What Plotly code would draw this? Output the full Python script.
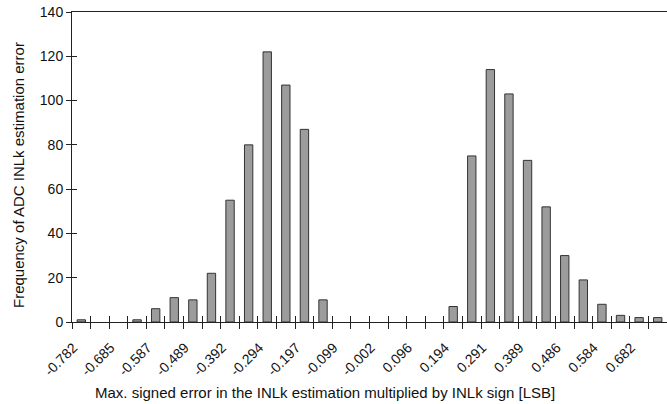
import plotly.graph_objects as go

# category centres (LSB); every other one is labelled
categories = [-0.782, -0.733, -0.685, -0.636, -0.587, -0.538, -0.489, -0.440,
              -0.392, -0.343, -0.294, -0.245, -0.197, -0.148, -0.099, -0.050,
              -0.002, 0.047, 0.096, 0.145, 0.194, 0.242, 0.291, 0.340,
              0.389, 0.437, 0.486, 0.535, 0.584, 0.633, 0.682, 0.730]
frequency = [1, 0, 0, 1, 6, 11, 10, 22, 55, 80, 122, 107, 87, 10, 0, 0,
             0, 0, 0, 0, 7, 75, 114, 103, 73, 52, 30, 19, 8, 3, 2, 2]
tick_labels = ["-0.782", "-0.685", "-0.587", "-0.489", "-0.392", "-0.294",
               "-0.197", "-0.099", "-0.002", "0.096", "0.194", "0.291",
               "0.389", "0.486", "0.584", "0.682"]
y_ticks = [0, 20, 40, 60, 80, 100, 120, 140]

idx = list(range(len(categories)))
label_pos = idx[::2]
boundaries = [i - 0.5 for i in range(len(categories) + 1)]
xr = [-0.5, len(categories) - 0.5]
bar_y = [v if v > 0 else None for v in frequency]

FONT = "Liberation Sans, Arial, sans-serif"

fig = go.Figure()
fig.add_trace(go.Bar(
    x=idx, y=bar_y, width=0.45,
    marker=dict(color="#9c9c9c", line=dict(color="#333333", width=1)),
    xaxis="x", yaxis="y", showlegend=False, hoverinfo="skip"))
fig.add_trace(go.Scatter(x=[], y=[], xaxis="x2", yaxis="y2", showlegend=False))
fig.add_trace(go.Scatter(x=[], y=[], xaxis="x3", yaxis="y2", showlegend=False))

fig.update_layout(
    width=667, height=404,
    margin=dict(l=72, r=0, t=12, b=82),
    plot_bgcolor="white", paper_bgcolor="white",
    font=dict(family=FONT, color="#111111"),
    xaxis=dict(range=xr, tickmode="array", tickvals=label_pos, ticktext=tick_labels,
               tickangle=-45, ticks="", ticklen=0, tickfont=dict(size=14),
               ticklabelshift=-8, ticklabelstandoff=11,
               showgrid=False, zeroline=False, showline=True, linecolor="#222222",
               linewidth=1, mirror=True),
    xaxis2=dict(range=xr, overlaying="x", anchor="y", side="bottom",
                tickmode="array", tickvals=boundaries, showticklabels=False,
                ticks="outside", ticklen=6, tickcolor="#222222",
                showgrid=False, zeroline=False, showline=False),
    xaxis3=dict(range=xr, overlaying="x", anchor="y", side="bottom",
                tickmode="array", tickvals=boundaries, showticklabels=False,
                ticks="inside", ticklen=6, tickcolor="#222222",
                showgrid=False, zeroline=False, showline=False),
    yaxis=dict(range=[0, 140], tickmode="array", tickvals=y_ticks,
               ticks="outside", ticklen=5, tickcolor="#222222",
               tickfont=dict(size=14), showgrid=False, zeroline=False,
               showline=True, linecolor="#222222", linewidth=1),
    yaxis2=dict(range=[0, 140], overlaying="y", anchor="x", side="left",
                tickmode="array", tickvals=y_ticks, showticklabels=False,
                ticks="inside", ticklen=5, tickcolor="#222222",
                showgrid=False, zeroline=False, showline=False),
    annotations=[
        dict(text="Max. signed error in the INLk estimation multiplied by INLk sign [LSB]",
             xref="paper", yref="paper", x=0.425, y=0, yshift=-70,
             xanchor="center", yanchor="middle", showarrow=False,
             font=dict(size=15, family=FONT, color="#111111")),
        dict(text="Frequency of ADC INLk estimation error",
             xref="paper", yref="paper", x=0, y=0.5, xshift=-54, yshift=-8,
             textangle=-90, xanchor="center", yanchor="middle", showarrow=False,
             font=dict(size=15, family=FONT, color="#111111")),
    ],
)

fig.write_html("out.html")
